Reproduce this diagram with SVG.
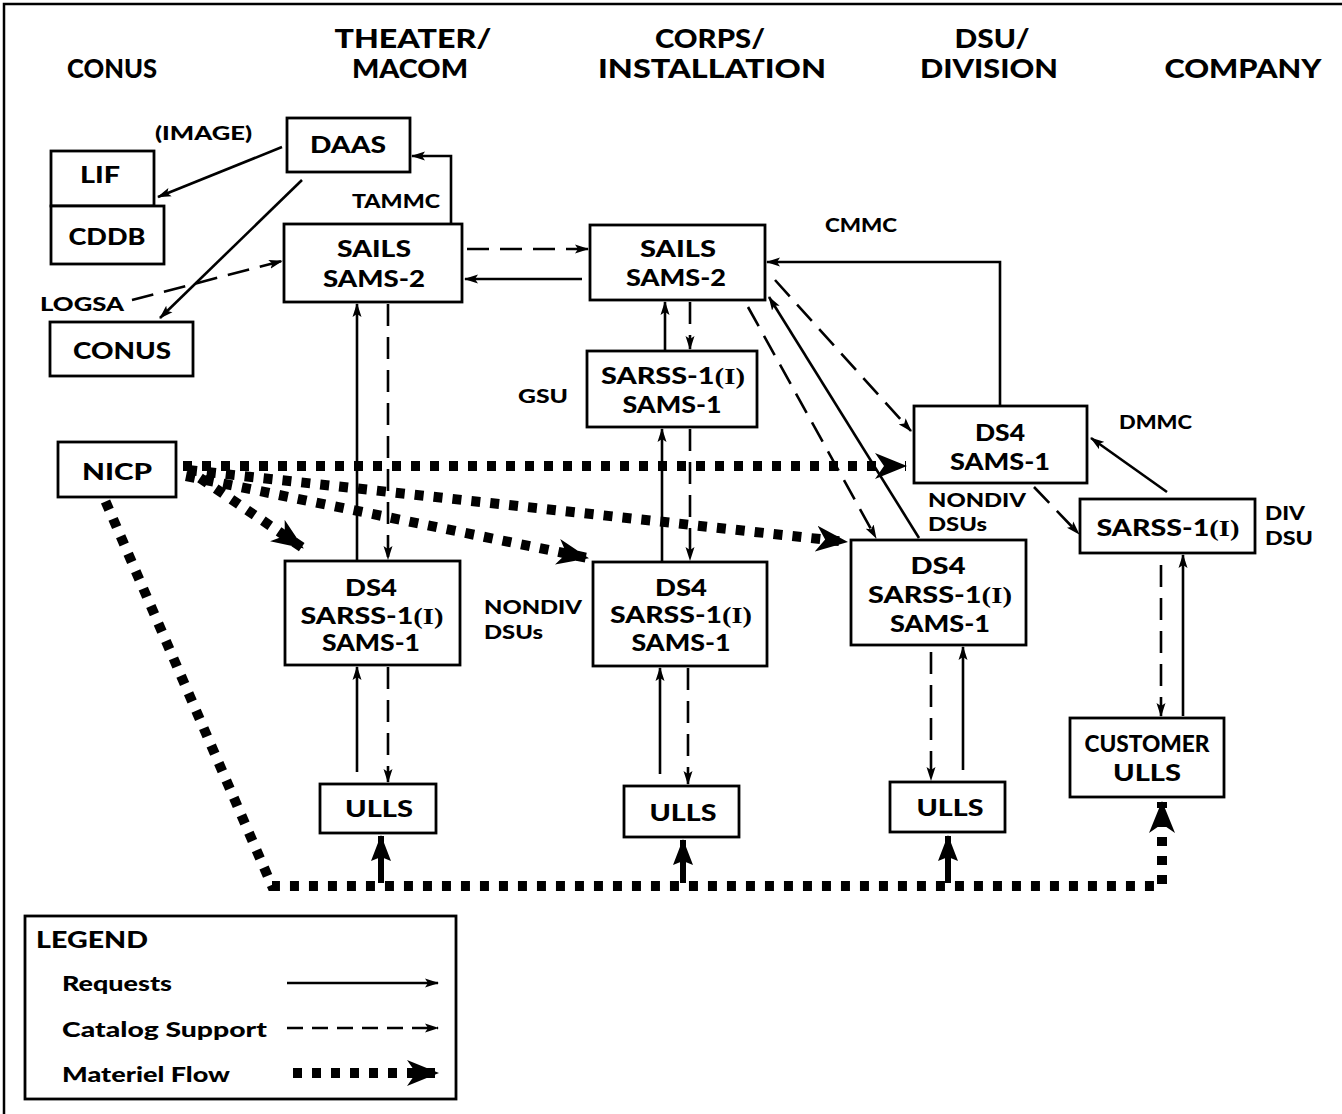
<svg xmlns="http://www.w3.org/2000/svg" width="1342" height="1114" viewBox="0 0 1342 1114">
<style>
text{font-family:Lato,"Open Sans","Liberation Sans",sans-serif;font-weight:900;fill:#000}
.h{font-size:27px;text-anchor:middle}
.n{font-size:23px;text-anchor:middle}
.l{font-size:19px}
.g{font-size:20px}
.gt{font-size:22px}
.ser{font-family:"Liberation Serif","DejaVu Serif",serif;font-weight:bold}
rect{fill:#fff;stroke:#000;stroke-width:2.8}
.s{fill:none;stroke:#000;stroke-width:2.6;marker-end:url(#a)}
.d{fill:none;stroke:#000;stroke-width:2.6;stroke-dasharray:22 11;marker-end:url(#a)}
.m{fill:none;stroke:#000;stroke-width:10;stroke-dasharray:9 10;marker-end:url(#b)}
.t{fill:none;stroke:#000;stroke-width:6;marker-end:url(#c)}
.f{fill:none;stroke:#000;stroke-width:2.5}
</style>
<defs>
<marker id="a" viewBox="0 0 14 10" refX="13" refY="5" markerWidth="14" markerHeight="10" orient="auto" markerUnits="userSpaceOnUse"><path d="M0,0.5 L14,5 L0,9.5 L3,5 z"/></marker>
<marker id="b" viewBox="0 0 32 26" refX="31" refY="13" markerWidth="32" markerHeight="26" orient="auto" markerUnits="userSpaceOnUse"><path d="M0,0 L32,13 L0,26 L9,13 z"/></marker>
<marker id="c" viewBox="0 0 26 20" refX="25" refY="10" markerWidth="26" markerHeight="20" orient="auto" markerUnits="userSpaceOnUse"><path d="M0,0 L26,10 L0,20 L4,10 z"/></marker>
</defs>
<path class="f" d="M4,1114 L4,4 L1342,4"/>
<g id="headers">
<text class="h" x="112" y="78" textLength="90" lengthAdjust="spacingAndGlyphs">CONUS</text>
<text class="h" x="413" y="48" textLength="157" lengthAdjust="spacingAndGlyphs">THEATER/</text>
<text class="h" x="410" y="78" textLength="116" lengthAdjust="spacingAndGlyphs">MACOM</text>
<text class="h" x="710" y="48" textLength="110" lengthAdjust="spacingAndGlyphs">CORPS/</text>
<text class="h" x="712" y="78" textLength="228" lengthAdjust="spacingAndGlyphs">INSTALLATION</text>
<text class="h" x="992" y="48" textLength="75" lengthAdjust="spacingAndGlyphs">DSU/</text>
<text class="h" x="989" y="78" textLength="138" lengthAdjust="spacingAndGlyphs">DIVISION</text>
<text class="h" x="1243" y="78" textLength="157" lengthAdjust="spacingAndGlyphs">COMPANY</text>
</g>
<g id="connectors">
<path class="s" d="M282,147 L158,197"/>
<path class="s" d="M302,180 L160,318"/>
<path class="s" d="M451,223 L451,156 L412,156"/>
<path class="s" d="M582,279 L465,279"/>
<path class="s" d="M357,561 L357,304"/>
<path class="s" d="M665,351 L665,302"/>
<path class="s" d="M662,562 L662,429"/>
<path class="s" d="M357,772 L357,667"/>
<path class="s" d="M660,774 L660,668"/>
<path class="s" d="M963,770 L963,647"/>
<path class="s" d="M1183,716 L1183,555"/>
<path class="s" d="M1167,492 L1091,438"/>
<path class="s" d="M919,538 L769,297"/>
<path class="s" d="M1000,406 L1000,262 L767,262"/>
<path class="d" d="M132,300 L282,261"/>
<path class="d" d="M467,249 L588,249"/>
<path class="d" d="M388,304 L388,559"/>
<path class="d" d="M690,302 L690,349"/>
<path class="d" d="M690,429 L690,560"/>
<path class="d" d="M388,667 L388,782"/>
<path class="d" d="M688,668 L688,784"/>
<path class="d" d="M931,652 L931,780"/>
<path class="d" d="M1161,565 L1161,716"/>
<path class="d" d="M775,280 L911,431"/>
<path class="d" d="M748,307 L876,538"/>
<path class="d" d="M1034,487 L1079,534"/>
<path class="m" d="M183,466 L906,466"/>
<path class="m" d="M188,470 L847,542"/>
<path class="m" d="M186,476 L588,558"/>
<path class="m" d="M200,478 L303,548"/>
<path class="m" d="M98,484 L272,886 L1162,886 L1162,802"/>
<path class="t" d="M381,883 L381,836"/>
<path class="t" d="M683,883 L683,840"/>
<path class="t" d="M948,883 L948,836"/>
</g>
<g id="daas"><rect x="287" y="118" width="123" height="54"/><text class="n" x="348" y="153" textLength="76" lengthAdjust="spacingAndGlyphs">DAAS</text></g>
<g id="lif"><rect x="51" y="151" width="103" height="55"/><text class="n" x="100" y="183" textLength="40" lengthAdjust="spacingAndGlyphs">LIF</text></g>
<g id="cddb"><rect x="51" y="206" width="113" height="58"/><text class="n" x="107" y="245" textLength="77" lengthAdjust="spacingAndGlyphs">CDDB</text></g>
<g id="sails-theater"><rect x="284" y="224" width="178" height="78"/><text class="n" x="374" y="257" textLength="74" lengthAdjust="spacingAndGlyphs">SAILS</text><text class="n" x="374" y="287" textLength="102" lengthAdjust="spacingAndGlyphs">SAMS-2</text></g>
<g id="conus"><rect x="50" y="322" width="143" height="54"/><text class="n" x="122" y="359" textLength="98" lengthAdjust="spacingAndGlyphs">CONUS</text></g>
<g id="nicp"><rect x="58" y="442" width="118" height="55"/><text class="n" x="117" y="480" textLength="70" lengthAdjust="spacingAndGlyphs">NICP</text></g>
<g id="sails-corps"><rect x="590" y="225" width="175" height="75"/><text class="n" x="678" y="257" textLength="76" lengthAdjust="spacingAndGlyphs">SAILS</text><text class="n" x="676" y="286" textLength="100" lengthAdjust="spacingAndGlyphs">SAMS-2</text></g>
<g id="gsu"><rect x="587" y="351" width="170" height="76"/><text class="n" x="673" y="384" textLength="144" lengthAdjust="spacingAndGlyphs">SARSS-1<tspan class="ser">(I)</tspan></text><text class="n" x="672" y="413" textLength="99" lengthAdjust="spacingAndGlyphs">SAMS-1</text></g>
<g id="ds4-dmmc"><rect x="914" y="406" width="173" height="77"/><text class="n" x="1000" y="441" textLength="50" lengthAdjust="spacingAndGlyphs">DS4</text><text class="n" x="1000" y="470" textLength="100" lengthAdjust="spacingAndGlyphs">SAMS-1</text></g>
<g id="sarss-div"><rect x="1080" y="499" width="175" height="54"/><text class="n" x="1168" y="536" textLength="143" lengthAdjust="spacingAndGlyphs">SARSS-1<tspan class="ser">(I)</tspan></text></g>
<g id="ds4-right"><rect x="851" y="540" width="175" height="105"/><text class="n" x="938" y="574" textLength="55" lengthAdjust="spacingAndGlyphs">DS4</text><text class="n" x="940" y="603" textLength="144" lengthAdjust="spacingAndGlyphs">SARSS-1<tspan class="ser">(I)</tspan></text><text class="n" x="940" y="632" textLength="100" lengthAdjust="spacingAndGlyphs">SAMS-1</text></g>
<g id="ds4-left"><rect x="285" y="561" width="175" height="104"/><text class="n" x="371" y="596" textLength="52" lengthAdjust="spacingAndGlyphs">DS4</text><text class="n" x="372" y="624" textLength="143" lengthAdjust="spacingAndGlyphs">SARSS-1<tspan class="ser">(I)</tspan></text><text class="n" x="371" y="651" textLength="98" lengthAdjust="spacingAndGlyphs">SAMS-1</text></g>
<g id="ds4-mid"><rect x="593" y="562" width="174" height="104"/><text class="n" x="681" y="596" textLength="52" lengthAdjust="spacingAndGlyphs">DS4</text><text class="n" x="681" y="623" textLength="142" lengthAdjust="spacingAndGlyphs">SARSS-1<tspan class="ser">(I)</tspan></text><text class="n" x="681" y="651" textLength="99" lengthAdjust="spacingAndGlyphs">SAMS-1</text></g>
<g id="ulls1"><rect x="320" y="784" width="116" height="49"/><text class="n" x="379" y="817" textLength="68" lengthAdjust="spacingAndGlyphs">ULLS</text></g>
<g id="ulls2"><rect x="624" y="786" width="115" height="51"/><text class="n" x="683" y="821" textLength="67" lengthAdjust="spacingAndGlyphs">ULLS</text></g>
<g id="ulls3"><rect x="890" y="782" width="115" height="50"/><text class="n" x="950" y="816" textLength="67" lengthAdjust="spacingAndGlyphs">ULLS</text></g>
<g id="customer-ulls"><rect x="1070" y="718" width="154" height="79"/><text class="n" x="1147" y="752" textLength="125" lengthAdjust="spacingAndGlyphs">CUSTOMER</text><text class="n" x="1147" y="781" textLength="68" lengthAdjust="spacingAndGlyphs">ULLS</text></g>
<g id="labels">
<text class="l" x="155" y="140" textLength="97" lengthAdjust="spacingAndGlyphs">(IMAGE)</text>
<text class="l" x="352" y="208" textLength="88" lengthAdjust="spacingAndGlyphs">TAMMC</text>
<text class="l" x="40" y="311" textLength="84" lengthAdjust="spacingAndGlyphs">LOGSA</text>
<text class="l" x="825" y="232" textLength="72" lengthAdjust="spacingAndGlyphs">CMMC</text>
<text class="l" x="518" y="403" textLength="50" lengthAdjust="spacingAndGlyphs">GSU</text>
<text class="l" x="1119" y="429" textLength="73" lengthAdjust="spacingAndGlyphs">DMMC</text>
<text class="l" x="928" y="507" textLength="98" lengthAdjust="spacingAndGlyphs">NONDIV</text>
<text class="l" x="928" y="531" textLength="59" lengthAdjust="spacingAndGlyphs">DSUs</text>
<text class="l" x="1265" y="520" textLength="40" lengthAdjust="spacingAndGlyphs">DIV</text>
<text class="l" x="1265" y="545" textLength="48" lengthAdjust="spacingAndGlyphs">DSU</text>
<text class="l" x="484" y="614" textLength="98" lengthAdjust="spacingAndGlyphs">NONDIV</text>
<text class="l" x="484" y="639" textLength="59" lengthAdjust="spacingAndGlyphs">DSUs</text>
</g>
<g id="legend">
<rect x="25" y="916" width="431" height="183"/>
<text class="gt" x="36" y="948" textLength="112" lengthAdjust="spacingAndGlyphs">LEGEND</text>
<text class="g" x="62" y="991" textLength="110" lengthAdjust="spacingAndGlyphs">Requests</text>
<text class="g" x="62" y="1037" textLength="205" lengthAdjust="spacingAndGlyphs">Catalog Support</text>
<text class="g" x="62" y="1082" textLength="168" lengthAdjust="spacingAndGlyphs">Materiel Flow</text>
<path class="s" d="M287,983 L438,983"/>
<path class="d" d="M287,1028 L438,1028" style="stroke-dasharray:16 9"/>
<path class="m" d="M293,1073 L438,1073"/>
</g>
</svg>
